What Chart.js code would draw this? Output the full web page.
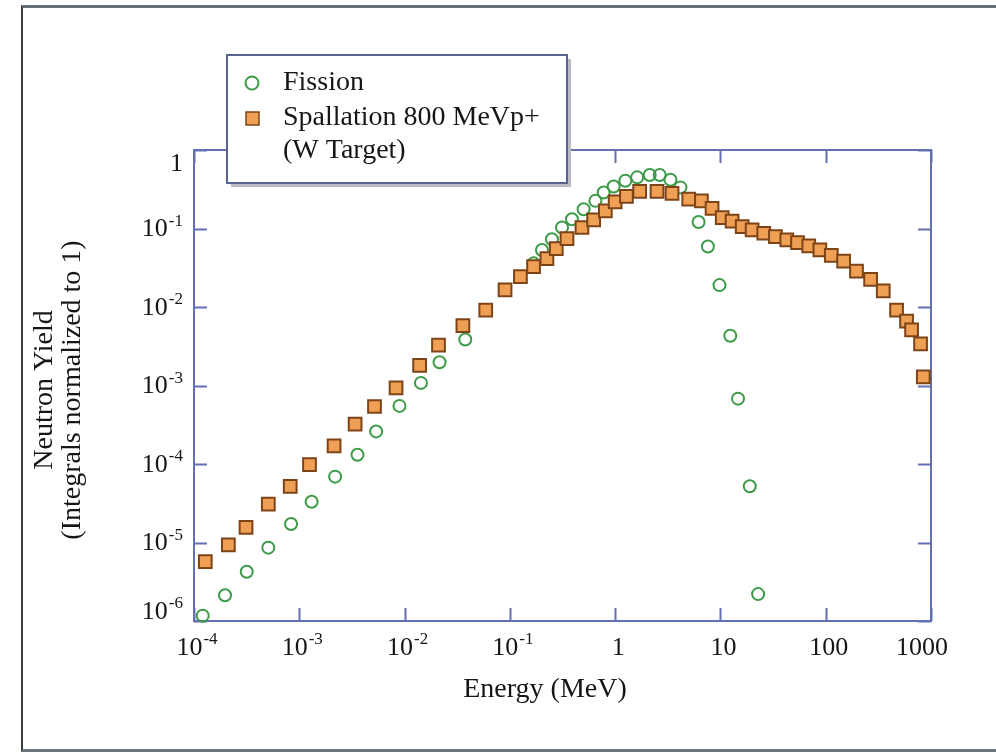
<!DOCTYPE html>
<html>
<head>
<meta charset="utf-8">
<title>Neutron Yield</title>
<script src="https://cdn.jsdelivr.net/npm/chart.js@4.4.0/dist/chart.umd.min.js"></script>
<style>
  html, body { margin: 0; padding: 0; background: #fff; }
  #wrap { position: relative; width: 996px; height: 753px; overflow: hidden; }
  #frame {
    position: absolute; left: 21px; top: 5px; width: 980px; height: 741px;
    border-top: 3px solid #65727a; border-left: 2px solid #3a3f44; border-bottom: 3px solid #6d787e;
  }
  #chart { position: absolute; left: 0; top: 0; }
</style>
</head>
<body>
<div id="wrap">
  <div id="frame"></div>
  <canvas id="chart" width="996" height="753"></canvas>
</div>
<script>
(function() {
    "use strict";

    // Fission spectrum (green open circles)
    const fissionEnergy = [1.21e-4, 1.97e-4, 3.17e-4, 5.08e-4, 8.35e-4, 1.31e-3, 2.19e-3, 3.57e-3, 5.37e-3, 8.95e-3,
        1.43e-2, 2.15e-2, 3.77e-2, 0.168, 0.202, 0.251, 0.313, 0.389, 0.502, 0.649,
        0.778, 0.968, 1.25, 1.62, 2.13, 2.65, 3.35, 4.17, 6.2, 7.6,
        9.8, 12.4, 14.7, 19.0, 22.8];
    const fissionYield = [1.17e-6, 2.13e-6, 4.24e-6, 8.6e-6, 1.72e-5, 3.3e-5, 6.9e-5, 1.31e-4, 2.6e-4, 5.5e-4,
        1.08e-3, 1.98e-3, 3.85e-3, 0.036, 0.0533, 0.073, 0.103, 0.131, 0.176, 0.225,
        0.288, 0.343, 0.405, 0.448, 0.48, 0.48, 0.418, 0.334, 0.121, 0.059,
        0.019, 4.3e-3, 6.8e-4, 5.2e-5, 2.2e-6];

    // Spallation spectrum, 800 MeV protons on W (orange squares)
    const spallEnergy = [1.28e-4, 2.12e-4, 3.12e-4, 5.08e-4, 8.2e-4, 1.25e-3, 2.14e-3, 3.39e-3, 5.18e-3, 8.3e-3,
        1.39e-2, 2.1e-2, 3.58e-2, 5.9e-2, 9.0e-2, 0.126, 0.168, 0.225, 0.276, 0.349,
        0.484, 0.625, 0.807, 1.0, 1.28, 1.71, 2.5, 3.47, 5.0, 6.6,
        8.33, 10.4, 12.9, 16.1, 20.0, 25.8, 33.3, 42.7, 54, 69,
        88, 113, 148, 196, 267, 352, 471, 586, 654, 796, 845];
    const spallYield = [5.7e-6, 9.3e-6, 1.56e-5, 3.08e-5, 5.2e-5, 9.8e-5, 1.7e-4, 3.23e-4, 5.4e-4, 9.3e-4,
        1.8e-3, 3.26e-3, 5.8e-3, 9.1e-3, 0.0165, 0.0244, 0.0327, 0.0414, 0.0556, 0.0745,
        0.103, 0.129, 0.168, 0.219, 0.256, 0.297, 0.297, 0.28, 0.237, 0.225,
        0.18, 0.138, 0.124, 0.106, 0.096, 0.087, 0.079, 0.0715, 0.066, 0.06,
        0.0533, 0.0456, 0.0385, 0.0287, 0.0225, 0.016, 9.1e-3, 6.6e-3, 5.1e-3, 3.4e-3, 1.29e-3];

    // Ticks: value + label as [base, superscript]
    const xTickValues = [1e-4, 1e-3, 1e-2, 1e-1, 1, 10, 100, 1000];
    const xTickLabels = [['10', '-4'], ['10', '-3'], ['10', '-2'], ['10', '-1'], ['1', ''], ['10', ''], ['100', ''], ['1000', '']];
    const yTickValues = [1e-6, 1e-5, 1e-4, 1e-3, 1e-2, 1e-1, 1];
    const yTickLabels = [['10', '-6'], ['10', '-5'], ['10', '-4'], ['10', '-3'], ['10', '-2'], ['10', '-1'], ['1', '']];

    const xTitle = 'Energy (MeV)';
    const yTitle = ['Neutron Yield', '(Integrals normalized to 1)'];

    const AXIS = '#6470b4';
    const TEXT = '#161616';
    const FONT = '"Liberation Serif", "Times New Roman", serif';
    const GREEN = '#3d9b48';
    const ORANGE = '#f0a055';
    const BROWN = '#7d4418';

    function toPoints(xs, ys) {
        return xs.map(function(x, i) { return { x: x, y: ys[i] }; });
    }

    // "10" with a raised exponent
    function drawPow(ctx, base, sup, x, y, align) {
        ctx.font = '26px ' + FONT;
        const wb = ctx.measureText(base).width;
        ctx.font = '17px ' + FONT;
        const ws = sup ? ctx.measureText(sup).width + 1 : 0;
        const total = wb + ws;
        let left = align === 'right' ? x - total : x - total / 2;
        if (align === 'center' && left + total > 948) left = 948 - total;
        ctx.textAlign = 'left';
        ctx.textBaseline = 'middle';
        ctx.fillStyle = TEXT;
        ctx.font = '26px ' + FONT;
        ctx.fillText(base, left, y);
        if (sup) {
            ctx.font = '17px ' + FONT;
            ctx.fillText(sup, left + wb + 1, y - 8);
        }
    }

    const decor = {
        id: 'decor',
        beforeDatasetsDraw(chart) {
            const ctx = chart.ctx;
            const a = chart.chartArea;
            const xs = chart.scales.x, ys = chart.scales.y;
            const tl = 13;
            ctx.save();
            ctx.strokeStyle = AXIS;
            ctx.lineWidth = 2;
            ctx.strokeRect(a.left, a.top, a.right - a.left, a.bottom - a.top);
            ctx.beginPath();
            xTickValues.forEach(function(v) {
                const px = Math.round(xs.getPixelForValue(v)) + 0.5;
                ctx.moveTo(px, a.bottom); ctx.lineTo(px, a.bottom - tl);
                ctx.moveTo(px, a.top); ctx.lineTo(px, a.top + tl);
            });
            yTickValues.forEach(function(v) {
                const py = Math.round(ys.getPixelForValue(v)) + 0.5;
                ctx.moveTo(a.left, py); ctx.lineTo(a.left + tl, py);
                ctx.moveTo(a.right, py); ctx.lineTo(a.right - tl, py);
            });
            ctx.stroke();
            ctx.restore();
        },
        afterDatasetsDraw(chart) {
            const ctx = chart.ctx;
            const a = chart.chartArea;
            const xs = chart.scales.x, ys = chart.scales.y;
            ctx.save();

            // tick labels
            xTickValues.forEach(function(v, i) {
                drawPow(ctx, xTickLabels[i][0], xTickLabels[i][1], xs.getPixelForValue(v) + 3, a.bottom + 27, 'center');
            });
            yTickValues.forEach(function(v, i) {
                let py = ys.getPixelForValue(v) + 1;
                if (i === 0) py = a.bottom - 9;
                if (i === yTickValues.length - 1) py = a.top + 14;
                drawPow(ctx, yTickLabels[i][0], yTickLabels[i][1], 183, py, 'right');
            });

            // axis titles
            ctx.fillStyle = TEXT;
            ctx.font = '28px ' + FONT;
            ctx.textAlign = 'center';
            ctx.textBaseline = 'middle';
            ctx.fillText(xTitle, 545, 690);
            ctx.save();
            ctx.translate(45, 390);
            ctx.rotate(-Math.PI / 2);
            yTitle.forEach(function(line, i) {
                ctx.fillText(line, 0, i * 28);
            });
            ctx.restore();

            // legend box with drop shadow
            const bx = 227, by = 55, bw = 340, bh = 128;
            ctx.fillStyle = '#b9bdc1';
            ctx.fillRect(bx + 4, by + 4, bw, bh);
            ctx.fillStyle = '#fff';
            ctx.fillRect(bx, by, bw, bh);
            ctx.strokeStyle = '#58638f';
            ctx.lineWidth = 2;
            ctx.strokeRect(bx, by, bw, bh);

            const ds = chart.data.datasets;
            ctx.beginPath();
            ctx.arc(252, 83, 6.5, 0, Math.PI * 2);
            ctx.strokeStyle = ds[0].borderColor;
            ctx.lineWidth = 2;
            ctx.stroke();
            ctx.fillStyle = ds[1].backgroundColor;
            ctx.fillRect(246, 112, 13, 13);
            ctx.strokeStyle = ds[1].borderColor;
            ctx.lineWidth = 1.5;
            ctx.strokeRect(246, 112, 13, 13);

            ctx.fillStyle = TEXT;
            ctx.font = '28px ' + FONT;
            ctx.textAlign = 'left';
            ctx.textBaseline = 'middle';
            ctx.fillText(ds[0].label, 283, 83);
            ds[1].label.split('\n').forEach(function(line, i) {
                ctx.fillText(line, 283, 118 + i * 33);
            });
            ctx.restore();
        }
    };

    const ctx = document.getElementById('chart').getContext('2d');
    const chart = new Chart(ctx, {
        type: 'scatter',
        data: {
            datasets: [{
                label: 'Fission',
                data: toPoints(fissionEnergy, fissionYield),
                pointStyle: 'circle',
                pointRadius: 6,
                borderWidth: 2,
                borderColor: GREEN,
                backgroundColor: 'rgba(255,255,255,0)',
                order: 2
            }, {
                label: 'Spallation 800 MeVp+\n(W Target)',
                data: toPoints(spallEnergy, spallYield),
                pointStyle: 'rect',
                pointRadius: 9,
                borderWidth: 2,
                borderColor: BROWN,
                backgroundColor: ORANGE,
                order: 1
            }]
        },
        options: {
            responsive: false,
            devicePixelRatio: 1,
            animation: false,
            clip: false,
            layout: { padding: { left: 194, top: 150, right: 65, bottom: 132 } },
            plugins: { legend: { display: false }, tooltip: { enabled: false } },
            scales: {
                x: { type: 'logarithmic', min: 1e-4, max: 1000, display: false },
                y: { type: 'logarithmic', min: 1e-6, max: 1, display: false }
            }
        },
        plugins: [decor]
    });
})();
</script>
</body>
</html>
